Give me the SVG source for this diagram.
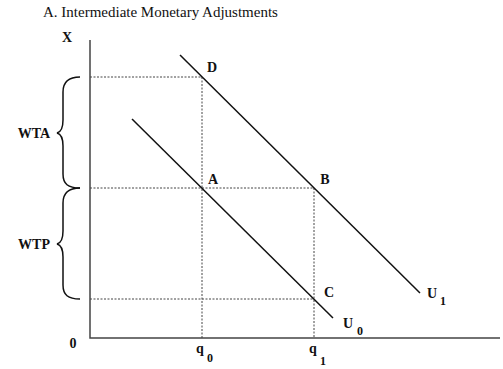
<svg xmlns="http://www.w3.org/2000/svg" width="503" height="369" viewBox="0 0 503 369">
<style>
.t{font-family:"Liberation Serif","Times New Roman",serif;fill:#111}
.b{font-weight:bold;font-size:14px}
.s{font-size:12px}
.dash{stroke:#444;stroke-width:1;stroke-dasharray:2,1.5;fill:none}
.ax{stroke:#444;stroke-width:1.5;fill:none}
.cur{stroke:#111;stroke-width:1.5;fill:none}
.br{stroke:#111;stroke-width:1.5;fill:none}
</style>
<rect width="503" height="369" fill="#fff"/>
<text class="t" x="43" y="17" font-size="15">A. Intermediate Monetary Adjustments</text>
<g id="axes">
<path class="ax" d="M90,40 V338 H500"/>
<text class="t b" x="67" y="42" text-anchor="middle">X</text>
<text class="t b" x="73" y="348" text-anchor="middle">0</text>
</g>
<g id="guides">
<path class="dash" d="M90,77 H202 V338"/>
<path class="dash" d="M90,188 H314 V338"/>
<path class="dash" d="M90,299 H314"/>
</g>
<g id="curves">
<g id="U0">
<path class="cur" d="M132,119 L333,318"/>
<text class="t b" x="348" y="328" text-anchor="middle">U</text>
<text class="t b s" x="360" y="335" text-anchor="middle">0</text>
</g>
<g id="U1">
<path class="cur" d="M180,55 L420,293"/>
<text class="t b" x="432" y="298" text-anchor="middle">U</text>
<text class="t b s" x="443" y="305" text-anchor="middle">1</text>
</g>
</g>
<g id="points">
<text class="t b" id="D" x="212" y="72" text-anchor="middle">D</text>
<text class="t b" id="A" x="213" y="184" text-anchor="middle">A</text>
<text class="t b" id="B" x="325" y="184" text-anchor="middle">B</text>
<text class="t b" id="C" x="329" y="297" text-anchor="middle">C</text>
</g>
<g id="q0">
<text class="t b" x="200" y="353" text-anchor="middle">q</text>
<text class="t b s" x="210" y="362" text-anchor="middle">0</text>
</g>
<g id="q1">
<text class="t b" x="313" y="353" text-anchor="middle">q</text>
<text class="t b s" x="323" y="365" text-anchor="middle">1</text>
</g>
<g id="WTA">
<path class="br" d="M80,77 C68,77 63,82 63,92 L63,120 C63,129 61,132 57,133 C61,134 63,137 63,146 L63,174 C63,184 68,188 80,188"/>
<text class="t b" x="34" y="138" text-anchor="middle" font-size="15">WTA</text>
</g>
<g id="WTP">
<path class="br" d="M80,188 C68,188 63,193 63,203 L63,231 C63,240 61,243 57,244 C61,245 63,248 63,257 L63,285 C63,295 68,299 80,299"/>
<text class="t b" x="34" y="249" text-anchor="middle" font-size="15">WTP</text>
</g>
</svg>
